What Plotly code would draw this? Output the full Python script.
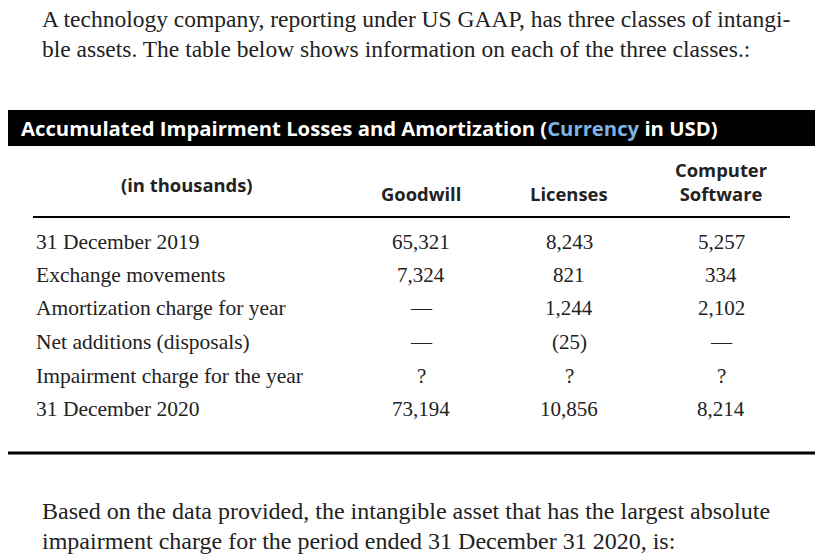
import plotly.graph_objects as go

question_no = "57"
question_lines = ["A technology company, reporting under US GAAP, has three classes of intangi-",
                  "ble assets. The table below shows information on each of the three classes.:"]
columns = ["Goodwill", "Licenses", "Computer<br>Software"]
row_labels = ["31 December 2019", "Exchange movements", "Amortization charge for year",
              "Net additions (disposals)", "Impairment charge for the year", "31 December 2020"]
goodwill = ["65,321", "7,324", "—", "—", "?", "73,194"]
licenses = ["8,243", "821", "1,244", "(25)", "?", "10,856"]
software = ["5,257", "334", "2,102", "—", "?", "8,214"]
footer_lines = ["Based on the data provided, the intangible asset that has the largest absolute",
                "impairment charge for the period ended 31 December 31 2020, is:"]

SERIF = "Liberation Serif"
SANS = "Open Sans"

fig = go.Figure()
ann = []

def txt(x, y, s, size, font=SERIF, color="#222", xa="left", ya="middle"):
    ann.append(dict(x=x, y=y, text=s, showarrow=False, xanchor=xa, yanchor=ya,
                    font=dict(family=font, size=size, color=color)))

txt(6, 20, "<b>" + question_no + "</b>", 17, SANS)
for i, line in enumerate(question_lines):
    txt(40, 19 + i * 30, line, 23.5)

# title bar
fig.add_shape(type="rect", x0=7, x1=818, y0=110, y1=146, fillcolor="black", line_width=0)
txt(19, 128, "<b>Accumulated Impairment Losses and Amortization (<span style='color:#7fb3e3'>Currency</span> in USD)</b>",
    20.3, SANS, "white")

# header
col_x = [421, 569, 721]
txt(187, 184, "<b>(in thousands)</b>", 18.4, SANS, xa="center")
for cx, c in zip(col_x, columns):
    txt(cx, 208, "<b>" + c + "</b>", 18.4, SANS, xa="center", ya="bottom")
fig.add_shape(type="line", x0=33, x1=790, y0=217, y1=217, line=dict(color="black", width=2))

row_y = [242, 275, 308, 342, 376, 409]
for y, lab, g, l, s in zip(row_y, row_labels, goodwill, licenses, software):
    txt(34, y, lab, 21.5)
    for cx, v in zip(col_x, [g, l, s]):
        txt(cx, y, v, 21, xa="center")

fig.add_shape(type="line", x0=7, x1=818, y0=453, y1=453, line=dict(color="black", width=3))

for i, line in enumerate(footer_lines):
    txt(40, 511 + i * 30, line, 24)

# the page body has an 8px margin, so offset the ranges to keep pixel coordinates
fig.update_layout(width=823, height=557, margin=dict(l=0, r=0, t=0, b=0),
                  paper_bgcolor="white", plot_bgcolor="white", annotations=ann,
                  xaxis=dict(range=[8, 831], visible=False, fixedrange=True),
                  yaxis=dict(range=[565, 8], visible=False, fixedrange=True))
fig.write_html("out.html")
